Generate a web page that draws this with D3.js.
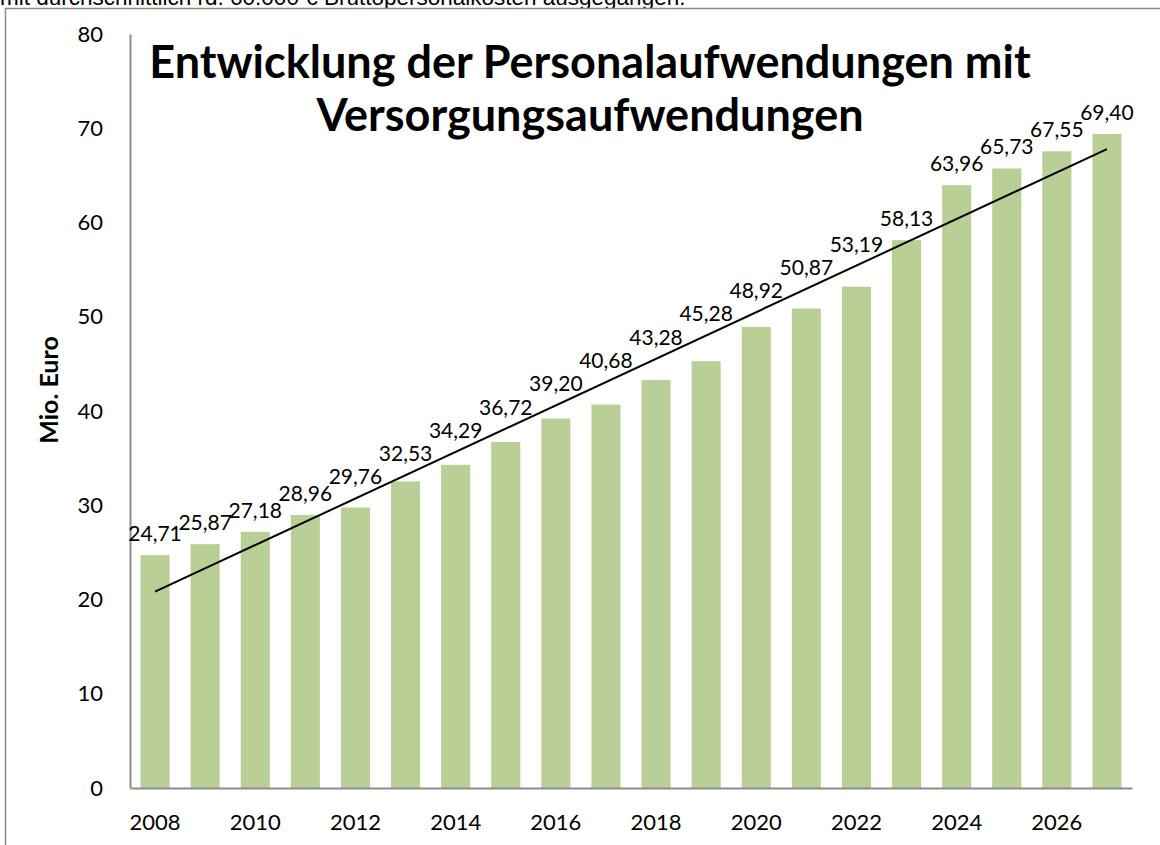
<!DOCTYPE html>
<html>
<head>
<meta charset="utf-8">
<script src="https://cdn.jsdelivr.net/npm/d3@7"></script>
<style>
  body { margin: 0; background: #fff; }
  svg { display: block; }
</style>
</head>
<body>
<script>
// data
var years = [2008, 2009, 2010, 2011, 2012, 2013, 2014, 2015, 2016, 2017,
             2018, 2019, 2020, 2021, 2022, 2023, 2024, 2025, 2026, 2027];
var values = [24.71, 25.87, 27.18, 28.96, 29.76, 32.53, 34.29, 36.72, 39.20, 40.68,
              43.28, 45.28, 48.92, 50.87, 53.19, 58.13, 63.96, 65.73, 67.55, 69.40];
var yTicks = [0, 10, 20, 30, 40, 50, 60, 70, 80];
var xTickYears = [2008, 2010, 2012, 2014, 2016, 2018, 2020, 2022, 2024, 2026];
var titleLines = ["Entwicklung der Personalaufwendungen mit", "Versorgungsaufwendungen"];

var width = 1160, height = 845;
var font = "Lato, 'Open Sans', sans-serif";

var svg = d3.select("body").append("svg")
    .attr("width", width)
    .attr("height", height);

// cut off text line from the page above
svg.append("text")
    .attr("x", 0)
    .attr("y", 5)
    .attr("font-family", "'Liberation Sans', Arial, sans-serif")
    .attr("font-size", "22.5px")
    .style("fill", "#000")
    .text("mit durchschnittlich rd. 60.000 € Bruttopersonalkosten ausgegangen.");

// chart frame
svg.append("rect")
    .attr("x", 5.5)
    .attr("y", 8.5)
    .attr("width", width)
    .attr("height", height)
    .attr("fill", "#fff")
    .attr("stroke", "#8c8c8c")
    .attr("stroke-width", 1.5);

var x = d3.scaleBand()
    .domain(years)
    .range([130, 1132])
    .paddingInner(0.42)
    .paddingOuter(0.21);

var y = d3.scaleLinear()
    .domain([0, 80])
    .range([788, 34]);

// bars
svg.selectAll("rect.bar").data(values)
    .enter()
    .append("rect")
    .attr("class", "bar")
    .attr("x", (d, i) => x(years[i]))
    .attr("y", d => y(d))
    .attr("width", x.bandwidth())
    .attr("height", d => y(0) - y(d))
    .attr("fill", "#b9cf96");

// linear trendline (least squares)
var n = values.length;
var mx = d3.mean(values, (d, i) => i);
var my = d3.mean(values);
var slope = d3.sum(values, (d, i) => (i - mx) * (d - my)) / d3.sum(values, (d, i) => (i - mx) * (i - mx));
var icpt = my - slope * mx;
var trend = i => icpt + slope * i;
var cx = i => x(years[i]) + x.bandwidth() / 2;

svg.append("line")
    .attr("x1", cx(0))
    .attr("y1", y(trend(0)))
    .attr("x2", cx(n - 1))
    .attr("y2", y(trend(n - 1)))
    .attr("stroke", "#000")
    .attr("stroke-width", 2);

// axes
var leftAxis = d3.axisLeft(y).tickValues(yTicks).tickSize(0).tickPadding(27);
var ga = svg.append("g")
    .attr("transform", "translate(130,0)")
    .call(leftAxis);
ga.select(".domain").attr("stroke", "#8c8c8c").attr("stroke-width", 2);
ga.selectAll("text")
    .attr("font-family", font)
    .attr("font-size", "22px")
    .style("fill", "#000");

var bottomAxis = d3.axisBottom(x).tickValues(xTickYears).tickSize(0).tickPadding(26);
var gb = svg.append("g")
    .attr("transform", "translate(0,788)")
    .call(bottomAxis);
gb.select(".domain").attr("stroke", "#8c8c8c").attr("stroke-width", 2);
gb.selectAll("text")
    .attr("font-family", font)
    .attr("font-size", "22px")
    .style("fill", "#000");

// data labels, lifted above bar and trendline
svg.selectAll("text.lbl").data(values)
    .enter()
    .append("text")
    .attr("class", "lbl")
    .attr("x", (d, i) => cx(i))
    .attr("y", (d, i) => Math.min(y(d), y(trend(i))) - 14)
    .attr("text-anchor", "middle")
    .attr("font-family", font)
    .attr("font-size", "21px")
    .style("fill", "#000")
    .text(d => d.toFixed(2).replace(".", ","));

// y axis title
svg.append("text")
    .attr("transform", "translate(58,390) rotate(-90)")
    .attr("text-anchor", "middle")
    .attr("font-family", font)
    .attr("font-size", "25px")
    .attr("font-weight", "bold")
    .style("fill", "#000")
    .text("Mio. Euro");

// chart title
svg.selectAll("text.title").data(titleLines)
    .enter()
    .append("text")
    .attr("class", "title")
    .attr("x", 590)
    .attr("y", (d, i) => 78 + i * 53)
    .attr("text-anchor", "middle")
    .attr("font-family", font)
    .attr("font-size", "45px")
    .attr("font-weight", "bold")
    .style("fill", "#000")
    .text(d => d);
</script>
</body>
</html>
